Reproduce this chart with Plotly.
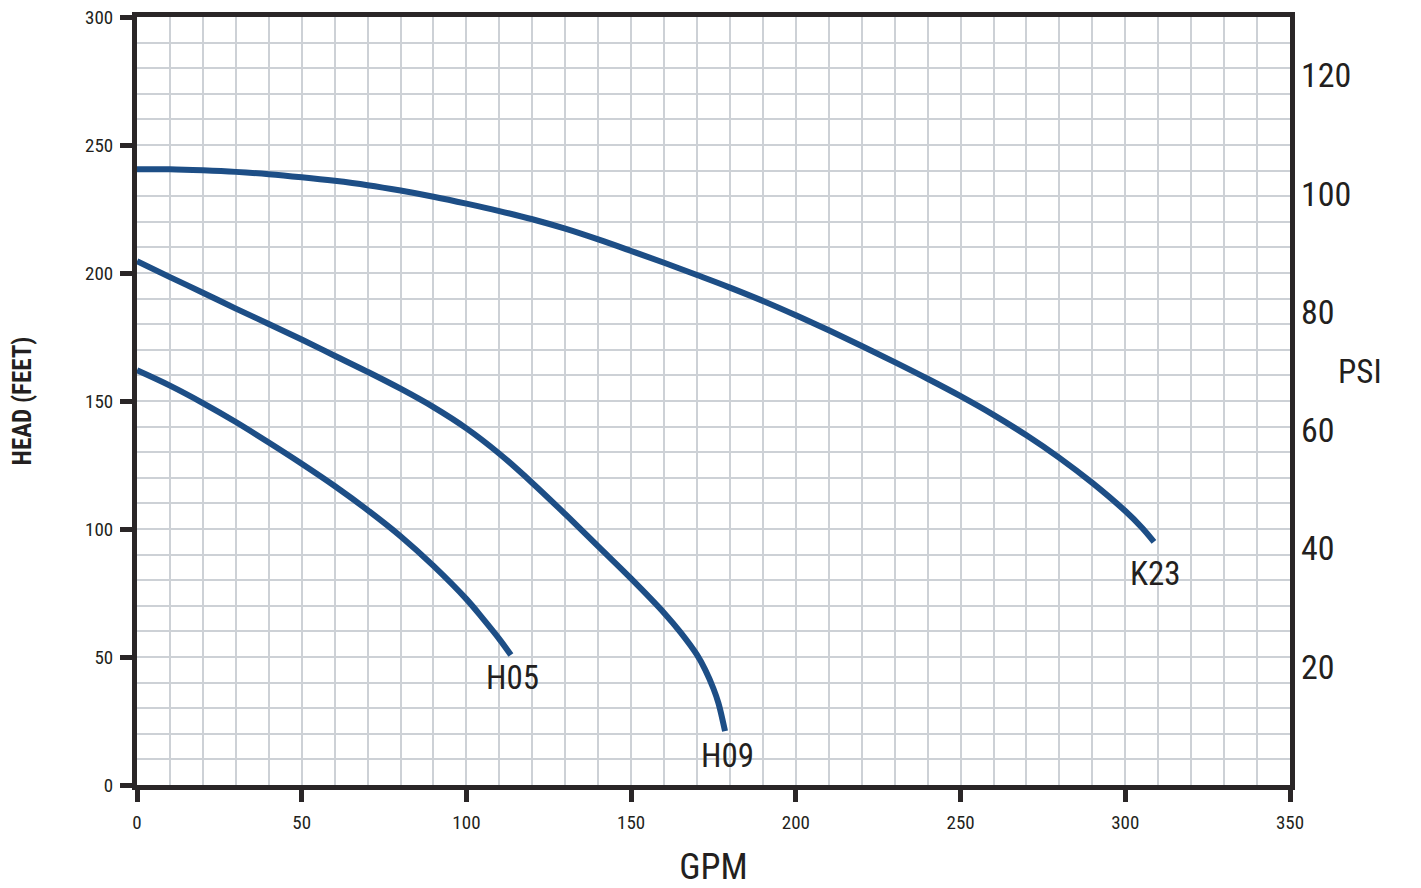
import plotly.graph_objects as go

# ---- data ----
k23_gpm = [0, 10, 20, 30, 40, 50, 60, 70, 80, 90, 100, 110, 120, 130, 140, 150, 160, 170, 180, 190, 200, 210, 220, 230, 240, 250, 260, 270, 280, 290, 300, 305, 308.7]
k23_head = [240.5, 240.5, 240.1, 239.5, 238.6, 237.4, 236.0, 234.3, 232.2, 229.8, 227.1, 224.2, 221.0, 217.3, 213.1, 208.6, 204.0, 199.2, 194.3, 189.1, 183.5, 177.6, 171.5, 165.2, 158.7, 151.9, 144.6, 136.6, 127.8, 118.0, 107.0, 100.6, 95.0]

h09_gpm = [0, 10, 20, 30, 40, 50, 60, 70, 80, 90, 100, 110, 120, 130, 140, 150, 160, 165, 170, 172.5, 175, 176.5, 178.5]
h09_head = [204.6, 198.4, 192.3, 186.1, 180.1, 174.0, 167.7, 161.4, 154.8, 147.6, 139.3, 129.4, 118.0, 105.8, 93.2, 80.6, 67.2, 59.6, 50.8, 45.0, 37.6, 32.0, 21.0]

h05_gpm = [0, 10, 20, 30, 40, 50, 60, 70, 80, 90, 100, 105, 110, 113.5]
h05_head = [162.0, 156.0, 149.2, 141.8, 133.8, 125.5, 116.8, 107.4, 97.2, 85.6, 72.6, 65.0, 57.0, 50.8]

series = [("K23", k23_gpm, k23_head), ("H05", h05_gpm, h05_head), ("H09", h09_gpm, h09_head)]

x_ticks = [0, 50, 100, 150, 200, 250, 300, 350]
y_ticks = [0, 50, 100, 150, 200, 250, 300]
psi_ticks = [20, 40, 60, 80, 100, 120]
FT_PER_PSI = 2.31

# ---- style ----
LINE_BLUE = "#1d4e86"
AXIS_COL = "#2a2627"
GRID_COL = "#cdd1d6"
TEXT_COL = "#231f20"
NARROW = "Liberation Sans Narrow, Arial Narrow, Roboto Condensed, Liberation Sans, sans-serif"
label_shift = {"K23": -32, "H05": -23, "H09": -24}

fig = go.Figure()
for name, xs, ys in series:
    fig.add_trace(go.Scatter(x=xs, y=ys, mode="lines", name=name,
                             line=dict(color=LINE_BLUE, width=6, shape="spline", smoothing=1.0),
                             showlegend=False, hoverinfo="x+y"))
    fig.add_annotation(x=xs[-1], y=ys[-1], text=name, showarrow=False,
                       xref="x", yref="y", yshift=label_shift[name], xshift=2,
                       font=dict(family=NARROW, size=33, color=TEXT_COL))

# invisible trace to activate the secondary (PSI) axis
fig.add_trace(go.Scatter(x=[0], y=[0], yaxis="y2", mode="markers",
                         marker=dict(opacity=0), showlegend=False, hoverinfo="skip"))

fig.add_annotation(text="PSI", xref="paper", yref="paper", x=1.0815, y=0.539,
                   showarrow=False, font=dict(family=NARROW, size=33, color=TEXT_COL))

fig.update_layout(
    width=1421, height=888,
    margin=dict(l=137, r=131, t=17, b=103),
    paper_bgcolor="white", plot_bgcolor="white",
    xaxis=dict(range=[0, 350], tickvals=x_ticks, showgrid=True, gridcolor=GRID_COL, gridwidth=1.5,
               minor=dict(dtick=10, showgrid=True, gridcolor=GRID_COL, gridwidth=1.5, ticks=""),
               showline=True, linewidth=5, linecolor=AXIS_COL, mirror=True,
               ticks="outside", ticklen=12, tickwidth=5, tickcolor=AXIS_COL,
               ticklabelstandoff=4, ticklabeloverflow="allow",
               tickfont=dict(family=NARROW, size=19, color=TEXT_COL),
               zeroline=False, automargin=False,
               title=dict(text="GPM", font=dict(family=NARROW, size=36, color=TEXT_COL), standoff=30)),
    yaxis=dict(range=[0, 300], tickvals=y_ticks, showgrid=True, gridcolor=GRID_COL, gridwidth=1.5,
               minor=dict(dtick=10, showgrid=True, gridcolor=GRID_COL, gridwidth=1.5, ticks=""),
               showline=True, linewidth=5, linecolor=AXIS_COL, mirror=True,
               ticks="outside", ticklen=12, tickwidth=5, tickcolor=AXIS_COL,
               ticklabelstandoff=3, ticklabeloverflow="allow",
               tickfont=dict(family=NARROW, size=19, color=TEXT_COL),
               zeroline=False, automargin=False,
               title=dict(text="<b>HEAD (FEET)</b>", font=dict(family=NARROW, size=25, color=TEXT_COL), standoff=48)),
    yaxis2=dict(range=[0, 300 / FT_PER_PSI], overlaying="y", side="right", tickvals=psi_ticks,
                showgrid=False, showline=False, ticks="", zeroline=False, automargin=False,
                ticklabelstandoff=10, ticklabeloverflow="allow",
                tickfont=dict(family=NARROW, size=34, color=TEXT_COL)),
)

# remove the default page margin so the figure fills the window exactly
fig.write_html("out.html", config={"displayModeBar": False},
               post_script="document.body.style.margin='0';document.body.style.overflow='hidden';")
